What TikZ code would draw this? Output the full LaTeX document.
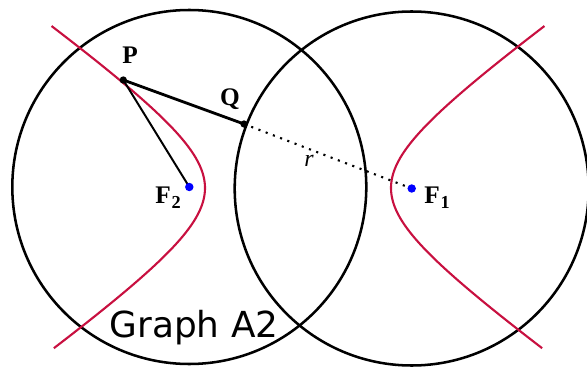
\documentclass[tikz,border=0pt]{standalone}
\usepackage{fontspec}
\setmainfont{Liberation Serif}
\newfontfamily\graphfont{DejaVu Sans}
\usetikzlibrary{positioning}

\definecolor{hypred}{RGB}{200,16,64}
\definecolor{focblue}{RGB}{0,0,255}

\begin{document}
\begin{tikzpicture}[x=0.025cm, y=-0.025cm]

    \useasboundingbox (0,0) rectangle (587,368);

    % --- foci and points ---
    \coordinate (F2) at (189.3,187);
    \coordinate (F1) at (411.7,188.5);
    \coordinate (P) at (123.3,80);
    \coordinate (Q) at (244,124);

    % --- circles round the foci ---
    \draw[line width=1.8pt] (F2) circle (177);
    \draw[line width=1.8pt] (F1) circle (177);

    % --- the two branches ---
    \draw[hypred,line width=1.5pt] plot[domain=-1.63:1.62,samples=80]
        ({298-93*cosh(\x)},{188+66*sinh(\x)});
    \draw[hypred,line width=1.5pt] plot[domain=-1.63:1.62,samples=80]
        ({298+93*cosh(\x)},{188+66*sinh(\x)});

    % --- segments ---
    \draw[line width=1.4pt] (P) -- (F2);
    \draw[line width=2pt] (P) -- (Q);
    \draw[line width=1.5pt,dash pattern=on 1.5pt off 4pt] (Q) -- (F1);

    \fill (P) circle (2.6pt);
    \fill (Q) circle (2.6pt);
    \fill[focblue] (F2) circle (3pt);
    \fill[focblue] (F1) circle (3pt);

    % --- labels ---
    \begin{scope}[every node/.style={font=\fontsize{18}{21}\selectfont\bfseries}]
      \node (lP) at (130,55) {P};
      \node (lQ) at (230,99) {Q};
      \node (lF2) at (168,198) {F\kern0.5pt\raisebox{-0.45ex}{\fontsize{13}{15}\selectfont 2}};
      \node (lF1) at (437,198) {F\kern0.5pt\raisebox{-0.45ex}{\fontsize{13}{15}\selectfont 1}};
      \node[font=\fontsize{17}{19}\selectfont\itshape] (lr) at (309,161) {r};
    \end{scope}

    \node[font=\graphfont\fontsize{25.5}{30}\selectfont,anchor=base] (title) at (194,337) {Graph A2};

\end{tikzpicture}
\end{document}
